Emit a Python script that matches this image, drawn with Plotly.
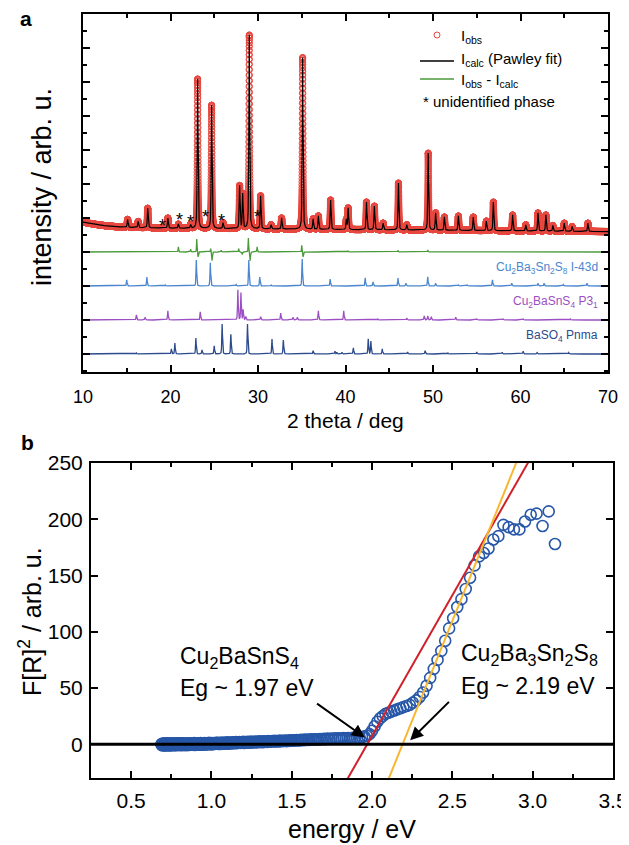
import numpy as np
import plotly.graph_objects as go

# ---------------- Panel a : XRD (values in arbitrary units)
bg_x = [10, 11, 12, 13, 14, 16, 20, 30, 40, 50, 60, 70]
bg_y = [3.88, 3.83, 3.79, 3.76, 3.74, 3.72, 3.70, 3.68, 3.66, 3.64, 3.62, 3.60]

obs_pos = [15.1, 16.3, 17.4, 19.7, 20.9, 22.3, 23.1, 24.7, 26.0, 27.9, 28.25, 29.0,
           30.3, 31.5, 32.7, 35.1, 36.3, 36.9, 38.3, 40.1, 40.3, 42.4, 43.3, 44.3,
           46.05, 47.0, 49.45, 50.3, 51.3, 52.9, 54.6, 56.1, 56.9, 59.1, 60.6, 62.0,
           62.9, 63.7, 65.0, 65.9, 67.7]
obs_top = [3.96, 3.90, 4.29, 4.00, 3.82, 3.80, 8.09, 7.32, 3.86, 4.94, 4.70, 9.38,
           4.65, 3.80, 4.00, 8.72, 3.97, 4.06, 4.53, 3.95, 4.29, 4.47, 4.35, 3.85,
           5.03, 3.80, 5.91, 4.15, 4.03, 4.06, 4.03, 3.91, 4.47, 4.09, 3.80, 4.15,
           4.09, 3.78, 3.85, 3.75, 3.85]

diff_base = 3.0
diff_pos = [20.9, 22.3, 23.0, 23.15, 24.6, 24.75, 25.8, 27.8, 28.2, 28.9, 29.1,
            29.9, 35.0, 35.15, 40.3, 46.0, 49.4]
diff_amp = [0.15, 0.08, 0.38, -0.15, 0.10, -0.26, 0.05, 0.10, -0.08, 0.41, -0.26,
            0.15, 0.20, -0.15, 0.04, 0.05, 0.06]

star_x = [19.1, 21.0, 22.3, 24.0, 25.8, 29.9]
star_y = [3.88, 4.06, 4.00, 4.15, 4.03, 4.15]

c2b3_base = 2.0
c2b3_pos = [15.0, 17.3, 19.4, 22.95, 24.55, 27.5, 28.95, 30.2, 31.5, 35.05, 38.25,
            42.25, 43.15, 46.0, 46.9, 49.4, 50.3, 52.9, 53.9, 56.8, 59.0, 62.0, 62.7,
            64.9, 67.6]
c2b3_h = [0.18, 0.26, 0.03, 0.76, 0.68, 0.04, 0.76, 0.26, 0.03, 0.79, 0.20, 0.24,
          0.12, 0.23, 0.08, 0.27, 0.08, 0.03, 0.03, 0.18, 0.08, 0.08, 0.08, 0.04, 0.08]

c2b1_base = 1.0
c2b1_pos = [16.1, 17.1, 19.7, 23.4, 27.7, 28.05, 28.3, 28.6, 30.3, 32.6, 34.0, 34.5,
            36.9, 39.8, 43.7, 47.0, 49.0, 49.4, 49.8, 52.6, 55.0, 58.0, 60.3, 65.7]
c2b1_h = [0.15, 0.08, 0.27, 0.24, 0.88, 0.80, 0.30, 0.10, 0.10, 0.20, 0.08, 0.08,
          0.27, 0.27, 0.03, 0.06, 0.12, 0.12, 0.10, 0.08, 0.03, 0.03, 0.03, 0.03]

baso4_base = 0.0
baso4_pos = [16.1, 20.1, 20.5, 22.9, 23.6, 25.0, 25.9, 26.9, 28.8, 31.6, 32.9, 36.3,
             38.8, 39.0, 39.6, 40.9, 42.6, 42.9, 44.2, 47.1, 49.1, 51.7, 55.0, 57.9,
             60.3, 61.9, 65.5]
baso4_h = [0.03, 0.15, 0.32, 0.47, 0.12, 0.24, 0.88, 0.58, 0.88, 0.44, 0.41, 0.10,
           0.08, 0.05, 0.05, 0.18, 0.44, 0.38, 0.15, 0.06, 0.10, 0.03, 0.06, 0.05,
           0.08, 0.04, 0.04]

# ---------------- Panel b : Kubelka-Munk
wavelength_nm = np.arange(1800, 390, -5)   # measurement grid, 1800 ... 395 nm
fr2 = [
    0.0, -0.6, 0.4, -0.9, 0.3, -0.4, 0.7, -1.0, 0.1, -0.5,
    0.5, -0.8, 0.2, -0.3, 0.8, -1.1, 0.0, 0.4, -0.7, 0.3,
    -0.2, 0.6, -0.9, 0.1, 0.7, -0.6, 0.2, -1.0, 0.5, -0.3,
    0.4, -0.7, 0.8, -0.2, 0.1, -0.9, 0.6, -0.4, 0.3, -0.8,
    0.7, -0.1, -0.6, 0.5, -0.3, 0.9, -0.8, 0.2, 0.4, -0.5,
    0.1, 0.8, -0.7, 0.3, -0.2, 0.6, -0.9, 0.5, 0.0, -0.4,
    0.9, -0.5, 0.3, 0.6, -0.8, 0.2, -0.1, 0.7, -0.6, 0.4,
    0.1, -0.7, 0.8, 0.3, -0.4, 0.6, -0.2, 0.9, -0.5, 0.2,
    0.5, -0.3, 1.0, -0.6, 0.4, 0.2, -0.4, 0.8, 0.0, 0.6,
    -0.5, 0.9, 0.3, -0.2, 1.0, -0.4, 0.5, 0.1, 0.8, -0.3,
    0.6, 1.1, -0.2, 0.4, 0.9, -0.1, 0.7, 0.2, 1.2, 0.0,
    0.8, 0.3, 1.1, -0.1, 0.6, 1.0, 0.2, 0.9, 0.4, 1.3,
    0.5, 1.2, 0.3, 0.9, 1.4, 0.2, 1.0, 0.7, 1.5, 0.4,
    1.1, 0.6, 1.4, 0.8, 1.7, 0.5, 1.2, 1.0, 1.6, 0.7,
    1.3, 1.8, 0.9, 1.5, 1.1, 1.9, 1.0, 1.6, 1.3, 2.0,
    1.2, 1.7, 1.4, 2.1, 1.1, 1.8, 1.5, 2.2, 1.3, 1.9,
    1.6, 2.3, 1.5, 2.0, 1.8, 2.5, 1.7, 2.2, 1.9, 2.6,
    2.0, 2.4, 1.8, 2.7, 2.2, 2.5, 2.1, 2.9, 2.3, 2.6,
    2.8, 2.4, 3.0, 2.6, 2.9, 2.5, 3.2, 2.7, 3.1, 2.9,
    3.3, 2.8, 3.4, 3.0, 3.6, 3.1, 3.5, 3.3, 3.8, 3.4,
    3.7, 3.9, 3.5, 4.1, 3.8, 4.2, 3.9, 4.4, 4.0, 4.3,
    4.5, 4.2, 4.7, 4.4, 4.8, 4.6, 5.0, 4.7, 5.1, 4.9,
    5.2, 5.0, 5.4, 5.1, 5.5, 5.3, 5.6, 5.4, 5.7, 5.5,
    5.5, 6.0, 6.5, 7.0, 7.5, 9.0, 12.0, 16.0, 20.0, 23.0,
    25.0, 27.0, 28.0, 29.0, 30.0, 31.0, 32.0, 33.0, 34.0, 35.0,
    37.0, 39.0, 42.0, 46.0, 52.0, 59.0, 67.0, 75.0, 83.0, 92.0,
    103.0, 112.0, 122.0, 129.0, 138.0, 148.0, 159.0, 167.0, 170.0, 174.0,
    182.0, 185.0, 195.0, 193.0, 191.0, 191.0, 198.0, 204.0, 205.0, 194.0,
    207.0, 178.0]
energy_ev = 1239.84 / wavelength_nm

fit_eg = [1.97, 2.19]            # x-intercepts of the fitted lines (eV)
fit_slope = [250.0, 353.6]       # slopes of the fitted lines
fit_color = ["#d0202a", "#f7b731"]

# ---------------- helpers
def profile(x, pos, amp, fwhm, eta):
    y = np.zeros_like(x)
    for p, a in zip(pos, amp):
        d = (x - p) / fwhm
        y += a * (eta / (1 + 4 * d * d) + (1 - eta) * np.exp(-4 * np.log(2) * d * d))
    return y

tt = np.round(np.arange(10, 70.0001, 0.0025), 4)
bg = np.interp(tt, bg_x, bg_y)
obs_h = np.array(obs_top) - np.interp(obs_pos, bg_x, bg_y)
calc = bg + profile(tt, obs_pos, obs_h, 0.11, 0.5)
obs = calc
diff = diff_base + profile(tt, diff_pos, diff_amp, 0.07, 0.3)
ref1 = c2b3_base + profile(tt, c2b3_pos, c2b3_h, 0.09, 0.4)
ref2 = c2b1_base + profile(tt, c2b1_pos, c2b1_h, 0.09, 0.4)
ref3 = baso4_base + profile(tt, baso4_pos, baso4_h, 0.09, 0.4)

RED = "#e8473f"
GREEN = "#4a9a3a"
BLUE1 = "#4a86d0"
PURPLE = "#9b4fc2"
NAVY = "#2c4a8c"
BLUEB = "#2757a8"
FONT = "Liberation Sans, Arial, sans-serif"

# page body has an 8 px default margin: lay the figure out in window pixels
OFF = 8
W, H = 629 - OFF, 845 - OFF

def px(xp):
    return (xp - OFF) / W

def py(yp):
    return 1 - (yp - OFF) / H

fig = go.Figure()
fig.add_trace(go.Scatter(x=tt, y=ref3, mode="lines", line=dict(color=NAVY, width=1.3), xaxis="x", yaxis="y"))
fig.add_trace(go.Scatter(x=tt, y=ref2, mode="lines", line=dict(color=PURPLE, width=1.3), xaxis="x", yaxis="y"))
fig.add_trace(go.Scatter(x=tt, y=ref1, mode="lines", line=dict(color=BLUE1, width=1.3), xaxis="x", yaxis="y"))
fig.add_trace(go.Scatter(x=tt, y=diff, mode="lines", line=dict(color=GREEN, width=1.3), xaxis="x", yaxis="y"))
fig.add_trace(go.Scatter(x=tt, y=obs, mode="markers",
                         marker=dict(symbol="circle-open", size=6, color=RED, line=dict(width=1, color=RED)),
                         xaxis="x", yaxis="y"))
fig.add_trace(go.Scatter(x=tt, y=calc, mode="lines", line=dict(color="black", width=1.2), xaxis="x", yaxis="y"))

# panel b
fig.add_trace(go.Scatter(x=energy_ev, y=fr2, mode="markers",
                         marker=dict(symbol="circle-open", size=11, color=BLUEB, line=dict(width=1.6, color=BLUEB)),
                         xaxis="x2", yaxis="y2"))
for eg, s, c in zip(fit_eg, fit_slope, fit_color):
    xs = np.array([eg - 40 / s, eg + 260 / s])
    fig.add_trace(go.Scatter(x=xs, y=s * (xs - eg), mode="lines", line=dict(color=c, width=2),
                             xaxis="x2", yaxis="y2"))

axis_common = dict(showline=True, linewidth=2, linecolor="black", mirror="allticks",
                   ticks="inside", ticklen=7, tickwidth=1.6, tickcolor="black",
                   showgrid=False, zeroline=False, automargin=False)

fig.update_layout(
    template="none",
    width=W, height=H, margin=dict(l=0, r=0, t=0, b=0, pad=0, autoexpand=False), autosize=False,
    paper_bgcolor="white", plot_bgcolor="white", showlegend=False,
    font=dict(family=FONT, color="black"),
    xaxis=dict(domain=[px(83), px(608)], range=[10, 70], tick0=10, dtick=10,
               minor=dict(dtick=5, ticks="inside", ticklen=4, tickwidth=1.6, tickcolor="black"),
               tickfont=dict(size=18), ticklabelstandoff=7, anchor="y", **axis_common),
    yaxis=dict(domain=[py(372), py(14)], range=[-0.53, 10], tick0=0, dtick=1,
               minor=dict(dtick=0.5, ticks="inside", ticklen=4, tickwidth=1.6, tickcolor="black"),
               showticklabels=False, anchor="x", **axis_common),
    xaxis2=dict(domain=[px(91), px(613)], range=[0.25, 3.5], tick0=0, dtick=0.5,
                tickformat=".1f",
                minor=dict(dtick=0.25, ticks="inside", ticklen=4, tickwidth=1.6, tickcolor="black"),
                tickfont=dict(size=21), ticklabelstandoff=3, anchor="y2", **axis_common),
    yaxis2=dict(domain=[py(778), py(463)], range=[-30, 250], tick0=0, dtick=50,
                tickfont=dict(size=21), ticklabelstandoff=2, anchor="x2", **axis_common),
)

ann = []
# panel letters
ann.append(dict(x=px(26), y=py(19), text="<b>a</b>", font=dict(size=21)))
ann.append(dict(x=px(27), y=py(442), text="<b>b</b>", font=dict(size=21)))
# axis titles
ann.append(dict(x=px(42), y=py(187), text="intensity / arb. u.", textangle=-90, font=dict(size=27)))
ann.append(dict(x=px(345), y=py(421), text="2 theta / deg", font=dict(size=21)))
ann.append(dict(x=px(30), y=py(622), text="F[R]<sup>2</sup> / arb. u.", textangle=-90, font=dict(size=25)))
ann.append(dict(x=px(352), y=py(829), text="energy / eV", font=dict(size=25)))
for a in ann:
    a.update(xanchor="center")
# legend (manual)
ann.append(dict(x=px(459), y=py(37), xanchor="left", text="I<sub>obs</sub>", font=dict(size=15)))
ann.append(dict(x=px(459), y=py(60), xanchor="left", text="I<sub>calc</sub> (Pawley fit)", font=dict(size=15)))
ann.append(dict(x=px(459), y=py(81), xanchor="left", text="I<sub>obs</sub> - I<sub>calc</sub>", font=dict(size=15)))
ann.append(dict(x=px(421), y=py(102), xanchor="left", text="* unidentified phase", font=dict(size=15)))
# phase labels
ann.append(dict(x=px(600), y=py(268), xanchor="right", text="Cu<sub>2</sub>Ba<sub>3</sub>Sn<sub>2</sub>S<sub>8</sub> I-43d",
                font=dict(size=12, color=BLUE1)))
ann.append(dict(x=px(600), y=py(302), xanchor="right", text="Cu<sub>2</sub>BaSnS<sub>4</sub> P3<sub>1</sub>",
                font=dict(size=12, color=PURPLE)))
ann.append(dict(x=px(600), y=py(336), xanchor="right", text="BaSO<sub>4</sub> Pnma",
                font=dict(size=12, color=NAVY)))
# panel b labels
ann.append(dict(x=px(178), y=py(657), xanchor="left", text="Cu<sub>2</sub>BaSnS<sub>4</sub>", font=dict(size=23)))
ann.append(dict(x=px(178), y=py(688), xanchor="left", text="Eg ~ 1.97 eV", font=dict(size=23)))
ann.append(dict(x=px(459), y=py(654), xanchor="left",
                text="Cu<sub>2</sub>Ba<sub>3</sub>Sn<sub>2</sub>S<sub>8</sub>", font=dict(size=23)))
ann.append(dict(x=px(459), y=py(686), xanchor="left", text="Eg ~ 2.19 eV", font=dict(size=23)))
for a in ann:
    a.update(xref="paper", yref="paper", yanchor="middle", showarrow=False)

# stars for unidentified phase
for sx, sy in zip(star_x, star_y):
    ann.append(dict(x=sx, y=sy, xref="x", yref="y", text="*", showarrow=False,
                    xanchor="center", yanchor="middle", font=dict(size=18), yshift=-4))

# arrows pointing to band gap intercepts
ann.append(dict(x=1.955, y=6, ax=1.648, ay=37, xref="x2", yref="y2", axref="x2", ayref="y2",
                text="", showarrow=True, arrowhead=2, arrowsize=1.3, arrowwidth=2, arrowcolor="black"))
ann.append(dict(x=2.237, y=3.5, ax=2.488, ay=39, xref="x2", yref="y2", axref="x2", ayref="y2",
                text="", showarrow=True, arrowhead=2, arrowsize=1.3, arrowwidth=2, arrowcolor="black"))
fig.update_layout(annotations=ann)

# legend symbols and zero line
shapes = [
    dict(type="circle", xref="paper", yref="paper", xsizemode="pixel", ysizemode="pixel",
         xanchor=px(437), yanchor=py(35), x0=-3, x1=3, y0=-3, y1=3,
         line=dict(color=RED, width=1)),
    dict(type="line", xref="paper", yref="paper", x0=px(420), x1=px(454), y0=py(61), y1=py(61),
         line=dict(color="black", width=1.5)),
    dict(type="line", xref="paper", yref="paper", x0=px(420), x1=px(454), y0=py(79), y1=py(79),
         line=dict(color=GREEN, width=1.5)),
    dict(type="line", xref="x2 domain", yref="y2", x0=0, x1=1, y0=0, y1=0,
         line=dict(color="black", width=3), layer="above"),
]
fig.update_layout(shapes=shapes)

fig.write_html("out.html")
